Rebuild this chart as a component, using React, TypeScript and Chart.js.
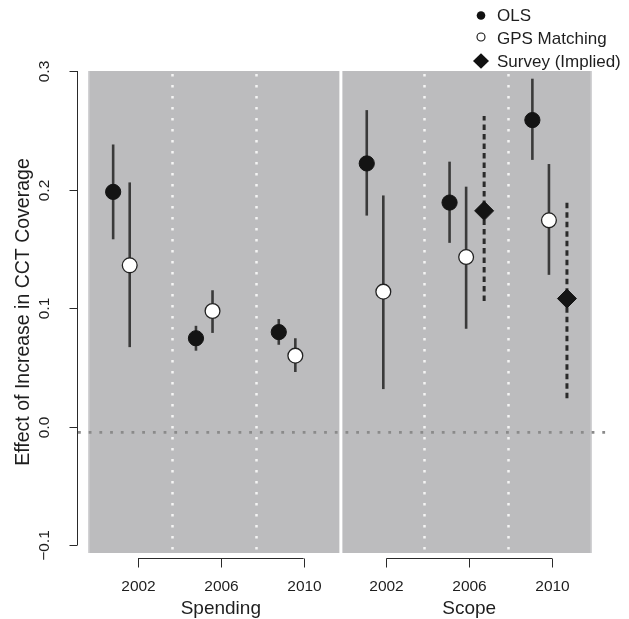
import React, { useEffect, useRef } from "react";
import { Chart, registerables } from "chart.js";

Chart.register(...registerables);

// ---------- data ----------
const panels = ["Spending", "Scope"];
const years = [2002, 2006, 2010];
const yTicks = [-0.1, 0.0, 0.1, 0.2, 0.3];
const yTickLabels = ["\u22120.1", "0.0", "0.1", "0.2", "0.3"];
const yTitle = "Effect of Increase in CCT Coverage";
const legendLabels = ["OLS", "GPS Matching", "Survey (Implied)"];

// order: Spending 2002, 2006, 2010, Scope 2002, 2006, 2010
const olsEst = [0.198, 0.0745, 0.0797, 0.222, 0.189, 0.2586];
const olsLo = [0.158, 0.064, 0.069, 0.178, 0.155, 0.225];
const olsHi = [0.238, 0.085, 0.0907, 0.267, 0.2235, 0.2935];

const gpsEst = [0.136, 0.0975, 0.0598, 0.1138, 0.143, 0.174];
const gpsLo = [0.067, 0.079, 0.046, 0.0316, 0.0825, 0.128];
const gpsHi = [0.206, 0.115, 0.0745, 0.195, 0.2024, 0.2215];

// Survey (Implied), Scope panel only
const surveyYears = [2006, 2010];
const surveyEst = [0.182, 0.108];
const surveyLo = [0.106, 0.0238];
const surveyHi = [0.262, 0.1917];

const refLine = -0.005;

// ---------- layout constants ----------
const PANEL_SHIFT = [0, 12];
const OLS_OFF = [-1.2, -0.95];
const GPS_OFF = [-0.4, -0.15];
const SURVEY_OFF = 0.72;
const X_MIN = 1999.585;
const X_MAX = 2023.93;
const Y_MIN = -0.1067;
const Y_MAX = 0.3;
const SEPARATOR = 2011.8;
const DIVIDERS = [2003.65, 2007.7, 2015.8, 2019.87];

const FONT = "'Liberation Sans', Arial, Helvetica, sans-serif";
const TEXT = "#1e1e1e";

const panelOf = (i: number) => (i < 3 ? 0 : 1);
const yearOf = (i: number) => years[i % 3];

const olsPts = olsEst.map((v, i) => ({ x: yearOf(i) + PANEL_SHIFT[panelOf(i)] + OLS_OFF[panelOf(i)], y: v }));
const gpsPts = gpsEst.map((v, i) => ({ x: yearOf(i) + PANEL_SHIFT[panelOf(i)] + GPS_OFF[panelOf(i)], y: v }));
const surveyPts = surveyEst.map((v, i) => ({ x: surveyYears[i] + PANEL_SHIFT[1] + SURVEY_OFF, y: v }));

const decorPlugin = {
  id: "decor",
  beforeDatasetsDraw(chart: any) {
    const { ctx, chartArea: a, scales } = chart;
    const x = scales.x;
    const y = scales.y;
    ctx.save();
    // grey panels
    ctx.fillStyle = "#bcbcbe";
    ctx.fillRect(a.left, a.top, a.right - a.left, a.bottom - a.top);
    // lighter edges
    ctx.fillStyle = "#d2d2d4";
    ctx.fillRect(a.left, a.top, 1.5, a.bottom - a.top);
    ctx.fillRect(a.right - 1.5, a.top, 1.5, a.bottom - a.top);
    // white separator
    const sx = x.getPixelForValue(SEPARATOR);
    ctx.fillStyle = "#ffffff";
    ctx.fillRect(sx - 1.5, a.top, 3, a.bottom - a.top);
    // white dotted dividers
    ctx.strokeStyle = "#f4f4f4";
    ctx.lineWidth = 2.5;
    ctx.setLineDash([2.5, 8.5]);
    for (const d of DIVIDERS) {
      const px = Math.round(x.getPixelForValue(d)) + 0.5;
      ctx.beginPath();
      ctx.moveTo(px, a.top + 3);
      ctx.lineTo(px, a.bottom);
      ctx.stroke();
    }
    // grey dotted reference line
    ctx.strokeStyle = "#8a8a8a";
    ctx.lineWidth = 2.8;
    ctx.setLineDash([2.8, 7.9]);
    const zy = y.getPixelForValue(refLine);
    ctx.beginPath();
    ctx.moveTo(a.left - 10, zy);
    ctx.lineTo(a.right + 16, zy);
    ctx.stroke();

    // error bars
    const bar = (px: number, lo: number, hi: number) => {
      ctx.beginPath();
      ctx.moveTo(px, y.getPixelForValue(lo));
      ctx.lineTo(px, y.getPixelForValue(hi));
      ctx.stroke();
    };
    ctx.setLineDash([]);
    ctx.lineCap = "butt";
    ctx.lineWidth = 2.6;
    ctx.strokeStyle = "#3a3a3a";
    olsPts.forEach((p, i) => bar(x.getPixelForValue(p.x), olsLo[i], olsHi[i]));
    gpsPts.forEach((p, i) => bar(x.getPixelForValue(p.x), gpsLo[i], gpsHi[i]));
    ctx.strokeStyle = "#2a2a2a";
    ctx.lineWidth = 3;
    ctx.setLineDash([5.5, 4]);
    surveyPts.forEach((p, i) => bar(x.getPixelForValue(p.x), surveyLo[i], surveyHi[i]));
    ctx.restore();
  },
  afterDraw(chart: any) {
    const { ctx, chartArea: a, scales } = chart;
    const x = scales.x;
    const y = scales.y;
    ctx.save();
    ctx.strokeStyle = "#2a2a2a";
    ctx.lineWidth = 1;
    ctx.fillStyle = TEXT;

    // y axis
    const axX = a.left - 10.5;
    ctx.beginPath();
    ctx.moveTo(axX, y.getPixelForValue(yTicks[yTicks.length - 1]));
    ctx.lineTo(axX, y.getPixelForValue(yTicks[0]));
    ctx.stroke();
    ctx.font = `15.5px ${FONT}`;
    ctx.textAlign = "center";
    ctx.textBaseline = "middle";
    yTicks.forEach((t, i) => {
      const py = Math.round(y.getPixelForValue(t)) + 0.5;
      ctx.beginPath();
      ctx.moveTo(axX - 8, py);
      ctx.lineTo(axX, py);
      ctx.stroke();
      ctx.save();
      ctx.translate(axX - 33, py);
      ctx.rotate(-Math.PI / 2);
      ctx.fillText(yTickLabels[i], 0, 0);
      ctx.restore();
    });
    ctx.save();
    ctx.font = `19.5px ${FONT}`;
    ctx.translate(24, (a.top + a.bottom) / 2);
    ctx.rotate(-Math.PI / 2);
    ctx.fillText(yTitle, 0, 0);
    ctx.restore();

    // x axes (one bracket per panel)
    const by = a.bottom + 5.5;
    panels.forEach((name, p) => {
      const x0 = x.getPixelForValue(years[0] + PANEL_SHIFT[p]);
      const x1 = x.getPixelForValue(years[years.length - 1] + PANEL_SHIFT[p]);
      ctx.beginPath();
      ctx.moveTo(x0, by);
      ctx.lineTo(x1, by);
      ctx.stroke();
      ctx.font = `15.5px ${FONT}`;
      years.forEach((yr) => {
        const px = Math.round(x.getPixelForValue(yr + PANEL_SHIFT[p])) + 0.5;
        ctx.beginPath();
        ctx.moveTo(px, by);
        ctx.lineTo(px, by + 9);
        ctx.stroke();
        ctx.fillText(String(yr), px, by + 28);
      });
      ctx.font = `19px ${FONT}`;
      ctx.fillText(name, x.getPixelForValue(years[1] + PANEL_SHIFT[p]), by + 50);
    });

    // legend
    const lx = 481;
    const rows = [15.5, 38, 61];
    ctx.fillStyle = "#111";
    ctx.beginPath();
    ctx.arc(lx, rows[0], 4.3, 0, Math.PI * 2);
    ctx.fill();
    ctx.strokeStyle = "#111";
    ctx.lineWidth = 1.1;
    ctx.beginPath();
    ctx.arc(lx, rows[1] - 1, 4, 0, Math.PI * 2);
    ctx.stroke();
    ctx.beginPath();
    ctx.moveTo(lx - 8, rows[2]);
    ctx.lineTo(lx, rows[2] - 7.8);
    ctx.lineTo(lx + 8, rows[2]);
    ctx.lineTo(lx, rows[2] + 7.8);
    ctx.closePath();
    ctx.fill();
    ctx.fillStyle = TEXT;
    ctx.font = `17px ${FONT}`;
    ctx.textAlign = "left";
    legendLabels.forEach((l, i) => ctx.fillText(l, 497, rows[i] + 1));
    ctx.restore();
  },
};

export default function App() {
  const ref = useRef<HTMLCanvasElement | null>(null);
  useEffect(() => {
    if (!ref.current) return;
    const chart = new Chart(ref.current, {
      type: "scatter",
      data: {
        datasets: [
          {
            label: legendLabels[0],
            data: olsPts,
            pointRadius: 7.6,
            pointBackgroundColor: "#141414",
            pointBorderColor: "#141414",
            pointBorderWidth: 1,
          },
          {
            label: legendLabels[1],
            data: gpsPts,
            pointRadius: 7.4,
            pointBackgroundColor: "#ffffff",
            pointBorderColor: "#222222",
            pointBorderWidth: 1.3,
          },
          {
            label: legendLabels[2],
            data: surveyPts,
            pointStyle: "rectRot",
            pointRadius: 9.5,
            pointBackgroundColor: "#141414",
            pointBorderColor: "#141414",
            pointBorderWidth: 1,
          },
        ],
      },
      options: {
        responsive: false,
        animation: false,
        events: [],
        layout: { padding: { left: 88, right: 37, top: 71, bottom: 66 } },
        scales: {
          x: { type: "linear", min: X_MIN, max: X_MAX, display: false },
          y: { type: "linear", min: Y_MIN, max: Y_MAX, display: false },
        },
        plugins: { legend: { display: false }, tooltip: { enabled: false } },
      },
      plugins: [decorPlugin],
    });
    return () => chart.destroy();
  }, []);
  return (
    <div style={{ position: "absolute", left: 0, top: 0, width: 629, height: 619, background: "#fff" }}>
      <canvas ref={ref} width={629} height={619} style={{ display: "block" }} />
    </div>
  );
}
